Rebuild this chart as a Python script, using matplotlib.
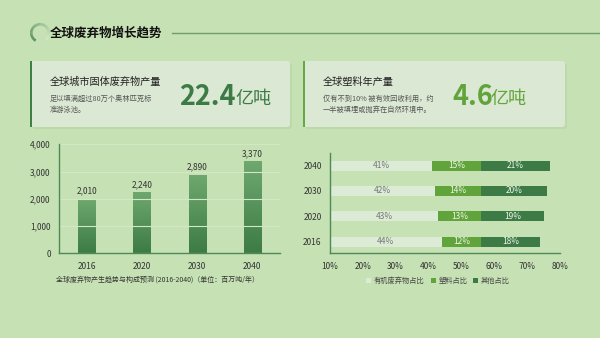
import numpy as np
import matplotlib.pyplot as plt
from matplotlib.patches import FancyBboxPatch, Rectangle, Wedge
from matplotlib.colors import LinearSegmentedColormap

plt.rcParams['font.family'] = ['Noto Sans CJK SC', 'DejaVu Sans']

#%% Data:

years = ['2016', '2020', '2030', '2040']
waste = [2010, 2240, 2890, 3370]  # [million t / year]

organic = [44, 43, 42, 41]  # [%]
plastic = [12, 13, 14, 15]
other = [18, 19, 20, 21]
comp_labels = ['有机废弃物占比', '塑料占比', '其他占比']

#%% Colors:

bg = '#c6e1b4'
card = '#dbe8d3'
dark = '#3c7b46'
mid = '#62a43c'
light = '#dcebd6'
txt = '#555555'

W, H = 600, 338
fig = plt.figure(figsize=(6, 3.38), dpi=100, facecolor=bg)

# overlay axes in pixel coords (y from top)
ov = fig.add_axes([0, 0, 1, 1], zorder=0)
ov.set_xlim(0, W)
ov.set_ylim(H, 0)
ov.axis('off')

# header icon + title + line
ring = LinearSegmentedColormap.from_list('r', ['#4f8a55', '#d5e8c8'])
for i in range(36):
    a0 = 120 + i * 8
    ov.add_patch(Wedge((40, 33), 10, a0, a0 + 8.5, width=2.6,
                       color=ring(i / 35), lw=0))
ov.text(50, 33, '全球废弃物增长趋势', fontsize=9, fontweight='bold',
        color='#111111', va='center', ha='left')
ov.plot([172, 600], [33, 33], color='#6f9e6b', lw=1)

# cards
for x0, x1, edge in [(30, 290, '#3f7f48'), (303, 565, '#66a845')]:
    ov.add_patch(FancyBboxPatch((x0 + 2, 63), x1 - x0, 66,
                                boxstyle='round,pad=0,rounding_size=3',
                                fc='#b9d6a6', ec='none', alpha=0.7))
    ov.add_patch(FancyBboxPatch((x0, 61), x1 - x0, 66,
                                boxstyle='round,pad=0,rounding_size=3',
                                fc=card, ec='none'))
    ov.add_patch(Rectangle((x0, 61), 2.2, 66, fc=edge, ec='none'))

ov.text(50, 82, '全球城市固体废弃物产量', fontsize=7.3, color='#222222',
        va='center')
ov.text(50, 99, '足以填满超过80万个奥林匹克标', fontsize=5.2, color=txt,
        va='center')
ov.text(50, 110, '准游泳池。', fontsize=5.2, color=txt, va='center')
ov.text(179, 97, '22.4', fontsize=19.5, fontweight='bold', color=dark,
        va='center')
ov.text(235.5, 99, '亿吨', fontsize=13, color=dark, va='center')

ov.text(323, 82, '全球塑料年产量', fontsize=7.3, color='#222222',
        va='center')
ov.text(323, 99, '仅有不到10% 被有效回收利用，约', fontsize=5.2, color=txt,
        va='center')
ov.text(323, 110, '一半被填埋或抛弃在自然环境中。', fontsize=5.2, color=txt,
        va='center')
ov.text(452, 97, '4.6', fontsize=19.5, fontweight='bold', color=mid,
        va='center')
ov.text(490.5, 99, '亿吨', fontsize=13, color=mid, va='center')

ov.text(56, 280, '全球废弃物产生趋势与构成预测 (2016-2040)（单位：百万吨/年）',
        fontsize=5.0, color='#333333', va='center')

#%% Left: vertical bars with gradient

ax1 = fig.add_axes([59 / W, 1 - 253.3 / H, 221 / W, 109 / H])
ax1.set_facecolor('none')
x = np.arange(len(years))
bars = ax1.bar(x, waste, width=0.31, color='none')
grad = LinearSegmentedColormap.from_list('g', ['#3d7c45', '#6ea86f'])
for b, v in zip(bars, waste):
    im = ax1.imshow(np.linspace(0, 1, 50).reshape(-1, 1), cmap=grad,
                    origin='lower', aspect='auto',
                    extent=[b.get_x(), b.get_x() + b.get_width(), 0, v])
    im.set_clip_path(b)
    ax1.text(b.get_x() + b.get_width() / 2, v + 120, f'{v:,}',
             ha='center', va='bottom', fontsize=6, color='#333333')
ax1.set_xlim(-0.5, 3.5)
ax1.set_ylim(0, 4000)
ax1.set_xticks(x)
ax1.set_xticklabels(years)
ax1.set_yticks([0, 1000, 2000, 3000, 4000])
ax1.set_yticklabels([f'{v:,}' for v in [0, 1000, 2000, 3000, 4000]])
ax1.grid(axis='y', color='#d2e8c4', lw=0.8)
ax1.set_axisbelow(True)
for s in ['top', 'right']:
    ax1.spines[s].set_visible(False)
for s in ['left', 'bottom']:
    ax1.spines[s].set_color('#4e8a55')
    ax1.spines[s].set_linewidth(1)
ax1.tick_params(length=0, labelsize=6, colors='#333333', pad=6)

#%% Right: stacked horizontal bars

ax2 = fig.add_axes([330 / W, 1 - 253.3 / H, 230 / W, 100.3 / H])
ax2.set_facecolor('none')
y = np.arange(len(years))
org = np.array(organic)
pla = np.array(plastic)
oth = np.array(other)
ax2.barh(y, org, height=0.4, color=light, label=comp_labels[0])
ax2.barh(y, pla, left=org, height=0.4, color=mid, label=comp_labels[1])
ax2.barh(y, oth, left=org + pla, height=0.4, color=dark,
         label=comp_labels[2])
for i in range(len(years)):
    ax2.text((10 + org[i]) / 2, y[i], f'{org[i]}%', ha='center',
             va='center', fontsize=6, color='#777777')
    ax2.text(org[i] + pla[i] / 2, y[i], f'{pla[i]}%', ha='center',
             va='center', fontsize=6, color='#eef5e8')
    ax2.text(org[i] + pla[i] + oth[i] / 2, y[i], f'{oth[i]}%', ha='center',
             va='center', fontsize=6, color='#eef5e8')
ax2.set_xlim(10, 80)
ax2.set_ylim(-0.46, 3.5)
ax2.set_xticks(range(10, 81, 10))
ax2.set_xticklabels([f'{v}%' for v in range(10, 81, 10)])
ax2.set_yticks(y)
ax2.set_yticklabels(years)
for s in ['top', 'right']:
    ax2.spines[s].set_visible(False)
for s in ['left', 'bottom']:
    ax2.spines[s].set_color('#4e8a55')
    ax2.spines[s].set_linewidth(1)
ax2.tick_params(length=0, labelsize=6, colors='#333333', pad=6)
ax2.legend(loc='upper center', bbox_to_anchor=(0.47, -0.17), ncol=3,
           frameon=False, fontsize=5.2, handlelength=0.7, handleheight=0.7,
           handletextpad=0.4, columnspacing=0.8, labelcolor='#444444')

plt.savefig('out.png', dpi=100, facecolor=bg)
